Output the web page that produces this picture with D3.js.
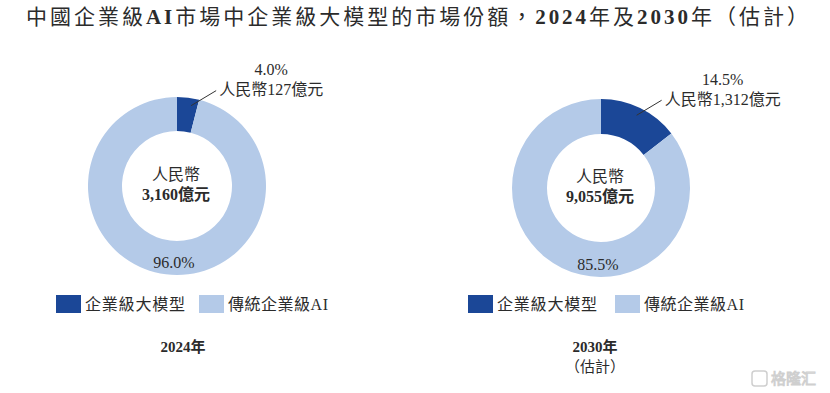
<!DOCTYPE html>
<html>
<head>
<meta charset="utf-8">
<script src="https://cdn.jsdelivr.net/npm/d3@7/dist/d3.min.js"></script>
<style>
  html, body { margin: 0; padding: 0; background: #fff; }
  svg { display: block; }
  text { font-family: "Liberation Serif", "Noto Sans CJK TC", serif; fill: #2b2b2b; }
</style>
</head>
<body>
<svg id="chart" width="830" height="393"></svg>
<script>
// ---- data ----
const titleParts = [
  {t: "中國企業級", b: false}, {t: "AI", b: true}, {t: "市場中企業級大模型的市場份額，", b: false},
  {t: "2024", b: true}, {t: "年及", b: false}, {t: "2030", b: true}, {t: "年（估計）", b: false}
];
const years = ["2024年", "2030年"];
const yearNotes = ["", "（估計）"];
const categories = ["企業級大模型", "傳統企業級AI"];
const largeModelShare = [4.0, 14.5];        // %
const traditionalShare = [96.0, 85.5];      // %
const largeModelValue = [127, 1312];        // 人民幣億元
const marketTotal = [3160, 9055];           // 人民幣億元
const colors = ["#1b4797", "#b4cae8"];

// ---- layout ----
const svg = d3.select("#chart");
const fmt = d3.format(",");

const title = svg.append("text")
  .attr("x", 26).attr("y", 17)
  .attr("dominant-baseline", "central")
  .attr("font-size", 21)
  .attr("textLength", 782)
  .attr("lengthAdjust", "spacing");
titleParts.forEach(p => {
  title.append("tspan").text(p.t).attr("font-weight", p.b ? "bold" : "normal");
});

const charts = [
  {cx: 177, cy: 186, R: 89, r: 55, legendX: 56, yearX: 183},
  {cx: 601, cy: 188, R: 89, r: 54, legendX: 468, yearX: 595}
];

const pie = d3.pie().sort(null).value(d => d);
const sx = d3.scaleOrdinal().domain(categories).range(colors);

charts.forEach((c, i) => {
  const g = svg.append("g").attr("transform", `translate(${c.cx},${c.cy})`);
  const arcs = pie([largeModelShare[i], traditionalShare[i]]);
  const arc = d3.arc().innerRadius(c.r).outerRadius(c.R);
  g.selectAll("path").data(arcs).join("path")
    .attr("d", arc)
    .attr("fill", (d, k) => sx(categories[k]));

  // leader line
  const a = arcs[0];
  const mid = (a.startAngle + a.endAngle) / 2;
  const rr = c.R - 8;
  const p0 = [rr * Math.sin(mid) + (i === 0 ? 4 : 0), -rr * Math.cos(mid)];
  const p1 = [p0[0] + 25, p0[1] - 15];
  g.append("line")
    .attr("x1", p0[0]).attr("y1", p0[1]).attr("x2", p1[0]).attr("y2", p1[1])
    .attr("stroke", "#333").attr("stroke-width", 1);

  const valText = g.append("text")
    .attr("x", p1[0] + 3).attr("y", p1[1] - 1)
    .attr("dominant-baseline", "central")
    .attr("font-size", 16)
    .text("人民幣" + fmt(largeModelValue[i]) + "億元");
  const w = valText.node().getComputedTextLength();
  g.append("text")
    .attr("x", p1[0] + 3 + w / 2).attr("y", p1[1] - 21)
    .attr("text-anchor", "middle").attr("dominant-baseline", "central")
    .attr("font-size", 16)
    .text(largeModelShare[i].toFixed(1) + "%");

  // traditional share
  g.append("text")
    .attr("x", -3).attr("y", c.R - 13)
    .attr("text-anchor", "middle").attr("dominant-baseline", "central")
    .attr("font-size", 16)
    .text(traditionalShare[i].toFixed(1) + "%");

  // center
  g.append("text")
    .attr("x", -1).attr("y", -12)
    .attr("text-anchor", "middle").attr("dominant-baseline", "central")
    .attr("font-size", 16)
    .text("人民幣");
  g.append("text")
    .attr("x", -1).attr("y", 8)
    .attr("text-anchor", "middle").attr("dominant-baseline", "central")
    .attr("font-size", 16).attr("font-weight", "bold")
    .text(fmt(marketTotal[i]) + "億元");

  // legend
  const lg = svg.append("g").attr("transform", `translate(${c.legendX},295)`);
  categories.forEach((cat, k) => {
    const off = k * (i === 0 ? 143 : 147);
    lg.append("rect").attr("x", off).attr("y", 0).attr("width", 25).attr("height", 18)
      .attr("fill", sx(cat));
    lg.append("text").attr("x", off + 29).attr("y", 9.5)
      .attr("dominant-baseline", "central")
      .attr("font-size", 16)
      .attr("fill", "#444")
      .attr("textLength", 100).attr("lengthAdjust", "spacing")
      .text(cat);
  });

  // year label
  svg.append("text")
    .attr("x", c.yearX).attr("y", 347)
    .attr("text-anchor", "middle").attr("dominant-baseline", "central")
    .attr("font-size", 15).attr("font-weight", "bold")
    .text(years[i]);
  if (yearNotes[i]) {
    svg.append("text")
      .attr("x", c.yearX).attr("y", 367)
      .attr("text-anchor", "middle").attr("dominant-baseline", "central")
      .attr("font-size", 15)
      .text(yearNotes[i]);
  }
});

// watermark
const wm = svg.append("g").attr("transform", "translate(752,371)");
wm.append("rect").attr("x", 0).attr("y", 0).attr("width", 15).attr("height", 15).attr("rx", 3)
  .attr("fill", "none").attr("stroke", "#cfcfcf").attr("stroke-width", 1.5);
wm.append("text").attr("x", 19).attr("y", 8).attr("dominant-baseline", "central")
  .attr("font-size", 15).style("fill", "#fff").attr("stroke", "#cfcfcf").attr("stroke-width", 1)
  .text("格隆汇");
</script>
</body>
</html>
